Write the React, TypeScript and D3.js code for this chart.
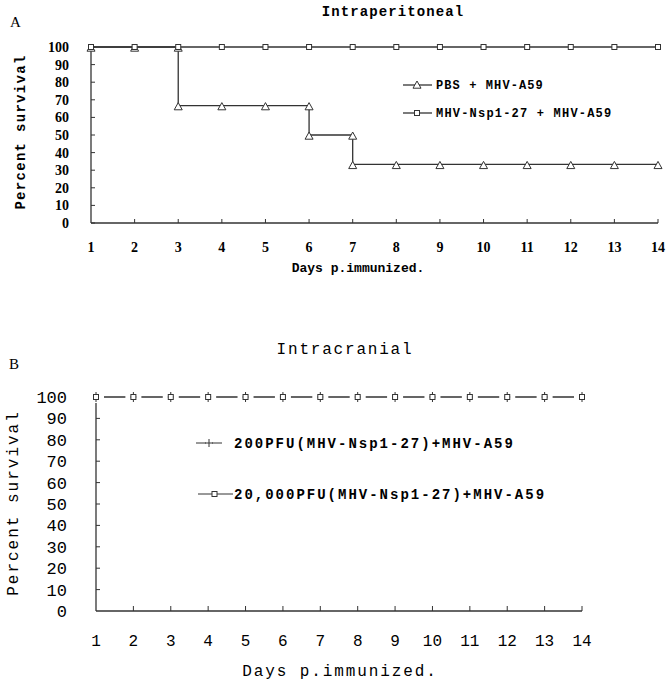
import React from "react";
import * as d3 from "d3";

const days = [1, 2, 3, 4, 5, 6, 7, 8, 9, 10, 11, 12, 13, 14];
const yTicks = [0, 10, 20, 30, 40, 50, 60, 70, 80, 90, 100];
const aSquareValues = [100, 100, 100, 100, 100, 100, 100, 100, 100, 100, 100, 100, 100, 100];
const aTriangleDays = [1, 2, 3, 3, 4, 5, 6, 6, 7, 7, 8, 9, 10, 11, 12, 13, 14];
const aTriangleValues = [100, 100, 100, 66.7, 66.7, 66.7, 66.7, 50, 50, 33.3, 33.3, 33.3, 33.3, 33.3, 33.3, 33.3, 33.3];
const b200Values = [100, 100, 100, 100, 100, 100, 100, 100, 100, 100, 100, 100, 100, 100];
const b20000Values = [100, 100, 100, 100, 100, 100, 100, 100, 100, 100, 100, 100, 100, 100];
const legendA = ["PBS + MHV-A59", "MHV-Nsp1-27 + MHV-A59"];
const legendB = ["200PFU(MHV-Nsp1-27)+MHV-A59", "20,000PFU(MHV-Nsp1-27)+MHV-A59"];

const FONT = "'Liberation Mono', 'DejaVu Sans Mono', monospace";
const SERIF = "'Liberation Serif', serif";

function tri(x: number, y: number, s = 4) {
  return `M${x},${y - s} L${x + s},${y + s * 0.8} L${x - s},${y + s * 0.8} Z`;
}

function PanelA() {
  const x = d3.scaleLinear().domain([1, 14]).range([91, 658]);
  const y = d3.scaleLinear().domain([0, 100]).range([223, 47]);
  const sqLine = d3.line<number>().x((_, i) => x(days[i])).y((d) => y(d));
  const triLine = d3.line<number>().x((_, i) => x(aTriangleDays[i])).y((d) => y(d));
  return (
    <g>
      <text x={10} y={27} fontFamily={SERIF} fontSize={15}>A</text>
      <text x={393} y={16} textAnchor="middle" fontFamily={FONT} fontWeight="bold" fontSize={14} letterSpacing={1.1}>Intraperitoneal</text>
      <line x1={91} x2={91} y1={y(100)} y2={y(0)} stroke="#333" strokeWidth={1.3} />
      <line x1={91} x2={658} y1={y(0)} y2={y(0)} stroke="#333" strokeWidth={1.3} />
      {yTicks.map((t) => (
        <g key={t}>
          <line x1={91} x2={95} y1={y(t)} y2={y(t)} stroke="#333" />
          <text x={69} y={y(t) + 5} textAnchor="end" fontFamily={SERIF} fontWeight="bold" fontSize={14}>{t}</text>
        </g>
      ))}
      {days.map((d) => (
        <g key={d}>
          {d > 1 && <line x1={x(d)} x2={x(d)} y1={y(0)} y2={y(0) - 4} stroke="#333" />}
          <text x={x(d)} y={252} textAnchor="middle" fontFamily={SERIF} fontWeight="bold" fontSize={14}>{d}</text>
        </g>
      ))}
      <text x={358} y={272} textAnchor="middle" fontFamily={FONT} fontWeight="bold" fontSize={13}>Days p.immunized.</text>
      <text transform={`translate(25,${132}) rotate(-90)`} textAnchor="middle" fontFamily={FONT} fontWeight="bold" fontSize={14} letterSpacing={1.3}>Percent survival</text>
      <path d={triLine(aTriangleValues) || ""} fill="none" stroke="#333" strokeWidth={1.3} />
      <path d={sqLine(aSquareValues) || ""} fill="none" stroke="#333" strokeWidth={1.3} />
      {aTriangleValues.map((v, i) => (
        <path key={i} d={tri(x(aTriangleDays[i]), y(v) + 1)} fill="#fff" stroke="#333" strokeWidth={1} />
      ))}
      {aSquareValues.map((v, i) => (
        <rect key={i} x={x(days[i]) - 2.5} y={y(v) - 2.5} width={5} height={5} fill="#fff" stroke="#333" strokeWidth={1} />
      ))}
      <g>
        <line x1={403} x2={432} y1={85} y2={85} stroke="#333" strokeWidth={1.3} />
        <path d={tri(417, 85)} fill="#fff" stroke="#333" />
        <text x={436} y={89} fontFamily={FONT} fontWeight="bold" fontSize={12} letterSpacing={1.1}>{legendA[0]}</text>
        <line x1={403} x2={432} y1={113} y2={113} stroke="#333" strokeWidth={1.3} />
        <rect x={414.5} y={110.5} width={5} height={5} fill="#fff" stroke="#333" />
        <text x={436} y={117} fontFamily={FONT} fontWeight="bold" fontSize={12} letterSpacing={1.2}>{legendA[1]}</text>
      </g>
    </g>
  );
}

function PanelB() {
  const x = d3.scaleLinear().domain([1, 14]).range([96, 582]);
  const y = d3.scaleLinear().domain([0, 100]).range([611, 397]);
  const line = d3.line<number>().x((_, i) => x(days[i])).y((d) => y(d));
  return (
    <g>
      <text x={9} y={369} fontFamily={SERIF} fontSize={15}>B</text>
      <text x={345} y={354} textAnchor="middle" fontFamily={FONT} fontSize={16} letterSpacing={1.8}>Intracranial</text>
      <line x1={96} x2={96} y1={y(100) + 6} y2={y(0)} stroke="#333" strokeWidth={1.3} />
      <line x1={96} x2={582} y1={y(0)} y2={y(0)} stroke="#333" strokeWidth={1.3} />
      {yTicks.map((t) => (
        <g key={t}>
          {t > 0 && t < 100 && <line x1={96} x2={100} y1={y(t)} y2={y(t)} stroke="#333" />}
          <text x={67} y={y(t) + 6} textAnchor="end" fontFamily={FONT} fontSize={17}>{t}</text>
        </g>
      ))}
      {days.map((d) => (
        <g key={d}>
          {d > 1 && <line x1={x(d)} x2={x(d)} y1={y(0)} y2={y(0) - 5} stroke="#333" />}
          <text x={x(d)} y={646} textAnchor="middle" fontFamily={FONT} fontSize={16}>{d}</text>
        </g>
      ))}
      <text x={340} y={676} textAnchor="middle" fontFamily={FONT} fontSize={16} letterSpacing={1.9}>Days p.immunized.</text>
      <text transform={`translate(18,${503}) rotate(-90)`} textAnchor="middle" fontFamily={FONT} fontSize={16} letterSpacing={2}>Percent survival</text>
      <path d={line(b200Values) || ""} fill="none" stroke="#333" strokeWidth={1.2} />
      <path d={line(b20000Values) || ""} fill="none" stroke="#333" strokeWidth={1.2} />
      {b20000Values.map((v, i) => (
        <g key={i}>
          <rect x={x(days[i]) - 8} y={y(v) - 1} width={16} height={2} fill="#fff" />
          <line x1={x(days[i])} x2={x(days[i])} y1={y(b200Values[i]) - 5} y2={y(b200Values[i]) + 5} stroke="#333" />
          <line x1={x(days[i]) - 3} x2={x(days[i]) + 3} y1={y(b200Values[i])} y2={y(b200Values[i])} stroke="#333" />
          <rect x={x(days[i]) - 2.5} y={y(v) - 2.5} width={5} height={5} fill="#fff" stroke="#333" />
        </g>
      ))}
      <g>
        <line x1={196} x2={206} y1={443} y2={443} stroke="#333" />
        <line x1={212} x2={222} y1={443} y2={443} stroke="#333" />
        <line x1={209} x2={209} y1={439} y2={447} stroke="#333" />
        <line x1={205} x2={213} y1={443} y2={443} stroke="#333" />
        <text x={234} y={448} fontFamily={FONT} fontWeight="bold" fontSize={14} letterSpacing={2}>{legendB[0]}</text>
        <line x1={198} x2={233} y1={494} y2={494} stroke="#333" />
        <rect x={212} y={491.5} width={5} height={5} fill="#fff" stroke="#333" />
        <text x={234} y={499} fontFamily={FONT} fontWeight="bold" fontSize={14} letterSpacing={2}>{legendB[1]}</text>
      </g>
    </g>
  );
}

export default function App() {
  return (
    <svg width={672} height={683} style={{ position: "absolute", left: 0, top: 0, background: "#fff" }}>
      <rect width={672} height={683} fill="#fff" />
      <PanelA />
      <PanelB />
    </svg>
  );
}
